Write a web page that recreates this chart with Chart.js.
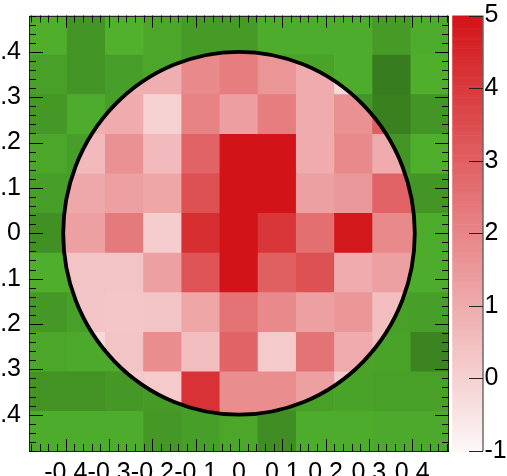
<!DOCTYPE html>
<html><head><meta charset="utf-8">
<script src="https://cdn.jsdelivr.net/npm/chart.js@4.4.1/dist/chart.umd.min.js"></script>
<style>html,body{margin:0;padding:0;background:#fff;overflow:hidden}</style>
</head><body>
<canvas id="c" width="507" height="476" style="width:507px;height:476px;display:block"></canvas>
<script>
// ---- data ----
const n = null;
const xRange = [-0.485, 0.485];
const yRange = [-0.48, 0.48];
const nBinsX = 11, nBinsY = 11;
const xTickValues = [-0.4, -0.3, -0.2, -0.1, 0, 0.1, 0.2, 0.3, 0.4];
const xTickLabels = ['-0.4', '-0.3', '-0.2', '-0.1', '0', '0.1', '0.2', '0.3', '0.4'];
const yTickValues = [-0.4, -0.3, -0.2, -0.1, 0, 0.1, 0.2, 0.3, 0.4];
const yTickLabels = ['-0.4', '-0.3', '-0.2', '-0.1', '0', '0.1', '0.2', '0.3', '0.4'];
const zRange = [-1, 5];
const zTickValues = [-1, 0, 1, 2, 3, 4, 5];
const zTickLabels = ['-1', '0', '1', '2', '3', '4', '5'];
const circleRadius = [0.406, 0.4];

// signal histogram (rows top -> bottom, columns left -> right)
const signalValues = [
  [n, n, n, n, 1.9, 2.2, 1.6, n, n, n, n],
  [n, n, 0.9, 0.9, 1.9, 2.2, 1.6, 1.0, -0.2, n, n],
  [n, 0.9, 1.0, 0.0, 2.1, 1.35, 2.2, 1.0, 1.7, 3.0, n],
  [n, 0.6, 1.7, 0.6, 2.9, 5, 5, 1.0, 1.9, 1.0, n],
  [1.1, 1.1, 1.3, 1.15, 3.4, 5, 5, 1.3, 1.5, 2.9, 2.9],
  [1.3, 1.3, 2.3, 0.1, 4.3, 5, 4.1, 2.6, 4.9, 1.9, 1.9],
  [0.35, 0.35, 0.35, 1.3, 3.3, 5, 3.0, 3.4, 1.0, 1.3, 1.3],
  [n, 0.35, 0.3, 0.35, 1.15, 2.5, 1.9, 1.3, 1.55, 0.5, n],
  [n, -0.2, 0.35, 1.8, 0.5, 2.9, 0.2, 2.5, 1.0, 0.5, n],
  [n, n, 0.2, 0.2, 4.2, 1.8, 1.8, 1.3, 0.2, n, n],
  [n, n, n, n, 4.2, 1.8, 1.8, n, n, n, n]
];
// background histogram (relative shade 0..1)
const backgroundValues = [
  [0.9, 0.45, 0.95, 0.75, 0.55, 0.55, 0.85, 0.85, 0.85, 0.55, 0.85],
  [0.65, 0.45, 0.6, 0.75, 0.55, n, 0.7, 0.7, 0.85, 0.0, 0.9],
  [0.5, 0.85, 0.6, n, n, n, n, n, 0.45, 0.08, 0.45],
  [0.75, 0.6, n, n, n, n, n, n, n, 0.45, 0.9],
  [0.6, 0.6, n, n, n, n, n, n, n, 0.55, 0.45],
  [0.35, n, n, n, n, n, n, n, n, n, 0.85],
  [0.9, 0.85, n, n, n, n, n, n, n, 0.8, 0.85],
  [0.5, 0.65, n, n, n, n, n, n, n, 0.65, 0.6],
  [0.75, 0.8, 0.8, n, n, n, n, n, 0.7, 0.7, 0.15],
  [0.4, 0.4, 0.5, 0.55, 0.6, n, 0.5, 0.65, 0.7, 0.65, 0.65],
  [0.85, 0.85, 0.85, 0.5, 0.6, 0.75, 0.3, 0.85, 0.85, 0.8, 0.8]
];

// ---- helpers ----
function binEdges(range, count) {
  const w = (range[1] - range[0]) / count;
  return Array.from({length: count + 1}, (_, i) => range[0] + i * w);
}
const xEdges = binEdges(xRange, nBinsX);
const yEdges = binEdges(yRange, nBinsY);
function toCells(grid) {
  const out = [];
  grid.forEach((row, r) => row.forEach((v, c) => {
    if (v === null) return;
    const yi = nBinsY - 1 - r;
    out.push({x: (xEdges[c] + xEdges[c + 1]) / 2, y: [yEdges[yi], yEdges[yi + 1]], v});
  }));
  return out;
}
function mix(a, b, t) {
  return 'rgb(' + a.map((av, i) => Math.round(av + (b[i] - av) * t)).join(',') + ')';
}
const redLow = [253, 247, 247], redHigh = [210, 20, 24];
const greenDark = [55, 124, 30], greenLight = [82, 180, 46];
function redColor(v) {
  const t = Math.max(0, Math.min(1, (v - zRange[0]) / (zRange[1] - zRange[0])));
  return mix(redLow, redHigh, t);
}
function greenColor(s) { return mix(greenDark, greenLight, Math.max(0, Math.min(1, s))); }

const FONT = {family: '"Liberation Sans", Arial, Helvetica, sans-serif', size: 25};

function setTicks(values) {
  return function (scale) { scale.ticks = values.map(v => ({value: v})); };
}
function labelFrom(values, labels) {
  return function (v) { const i = values.findIndex(t => Math.abs(t - v) < 1e-9); return i >= 0 ? labels[i] : ''; };
}

const decor = {
  id: 'decor',
  beforeDatasetDraw(chart, args) {
    if (args.index !== 0) return;
    const {x, y} = chart.scales;
    const ctx = chart.ctx;
    const cx = x.getPixelForValue(0), cy = y.getPixelForValue(0);
    ctx.save();
    ctx.beginPath();
    ctx.ellipse(cx, cy, Math.abs(x.getPixelForValue(circleRadius[0]) - cx), Math.abs(y.getPixelForValue(circleRadius[1]) - cy), 0, 0, Math.PI * 2);
    ctx.clip();
  },
  afterDatasetDraw(chart, args) {
    if (args.index !== 0) return;
    chart.ctx.restore();
  },
  afterDatasetsDraw(chart) {
    const {x, y} = chart.scales;
    const ctx = chart.ctx;
    const a = chart.chartArea;
    // circle
    const cx = x.getPixelForValue(0), cy = y.getPixelForValue(0);
    ctx.save();
    ctx.beginPath();
    ctx.ellipse(cx, cy, Math.abs(x.getPixelForValue(circleRadius[0]) - cx), Math.abs(y.getPixelForValue(circleRadius[1]) - cy), 0, 0, Math.PI * 2);
    ctx.lineWidth = 3.8;
    ctx.strokeStyle = '#000';
    ctx.stroke();
    ctx.restore();
    // frame
    ctx.save();
    ctx.strokeStyle = '#222';
    ctx.lineWidth = 1;
    ctx.strokeRect(Math.round(a.left) + 0.5, Math.round(a.top) + 0.5, Math.round(a.right - a.left) - 1, Math.round(a.bottom - a.top) - 1);
    // ticks
    ctx.strokeStyle = '#000';
    ctx.beginPath();
    const minorStep = 0.02;
    function minorVals(range) {
      const out = [];
      for (let k = Math.ceil(range[0] / minorStep - 1e-9); k * minorStep <= range[1] + 1e-9; k++) out.push(k * minorStep);
      return out;
    }
    const xl = {major: 12, minor: 7}, yl = {major: 14, minor: 7};
    minorVals(xRange).forEach(v => {
      const isMajor = Math.abs(Math.round(v * 10) - v * 10) < 1e-6;
      const L = isMajor ? xl.major : xl.minor;
      const px = Math.round(x.getPixelForValue(v)) + 0.5;
      ctx.moveTo(px, a.bottom); ctx.lineTo(px, a.bottom - L);
      ctx.moveTo(px, a.top); ctx.lineTo(px, a.top + L);
    });
    minorVals(yRange).forEach(v => {
      const isMajor = Math.abs(Math.round(v * 10) - v * 10) < 1e-6;
      const L = isMajor ? yl.major : yl.minor;
      const py = Math.round(y.getPixelForValue(v)) + 0.5;
      ctx.moveTo(a.left, py); ctx.lineTo(a.left + L, py);
      ctx.moveTo(a.right, py); ctx.lineTo(a.right - L, py);
    });
    ctx.stroke();
    ctx.restore();
  },
  afterDraw(chart) {
    const z = chart.scales.z;
    const ctx = chart.ctx;
    const left = z.left + 3.3, right = z.left + 33.5;
    const steps = 240;
    ctx.save();
    for (let i = 0; i < steps; i++) {
      const v0 = zRange[0] + (zRange[1] - zRange[0]) * i / steps;
      const v1 = zRange[0] + (zRange[1] - zRange[0]) * (i + 1) / steps;
      const p0 = z.getPixelForValue(v0), p1 = z.getPixelForValue(v1);
      ctx.fillStyle = redColor((v0 + v1) / 2);
      ctx.fillRect(left, p1, right - left, p0 - p1 + 0.6);
    }
    ctx.strokeStyle = '#222';
    ctx.lineWidth = 1;
    ctx.beginPath();
    ctx.moveTo(right + 0.5, z.top); ctx.lineTo(right + 0.5, z.bottom);
    zTickValues.forEach(v => {
      const py = Math.round(z.getPixelForValue(v)) + 0.5;
      ctx.moveTo(right + 0.5, py); ctx.lineTo(right - 13.5, py);
    });
    ctx.stroke();
    ctx.restore();
  }
};

new Chart(document.getElementById('c'), {
  type: 'bar',
  data: {
    datasets: [
      {label: 'signal', data: toCells(signalValues), order: 0,
       backgroundColor: c => c.raw ? redColor(c.raw.v) : '#d00',
       borderWidth: 0, grouped: false, barPercentage: 1, categoryPercentage: 1},
      {label: 'background', data: toCells(backgroundValues), order: 1,
       backgroundColor: c => c.raw ? greenColor(c.raw.v) : '#4a4',
       borderWidth: 0, grouped: false, barPercentage: 1, categoryPercentage: 1}
    ]
  },
  options: {
    responsive: false,
    devicePixelRatio: 1,
    animation: false,
    layout: {padding: {top: 15.5, left: 0, right: 0, bottom: 0}},
    plugins: {legend: {display: false}, tooltip: {enabled: false}},
    scales: {
      x: {
        type: 'linear', position: 'bottom', min: xRange[0], max: xRange[1], offset: false,
        grid: {display: false, drawTicks: false}, border: {display: false},
        afterBuildTicks: setTicks(xTickValues),
        ticks: {autoSkip: false, maxRotation: 0, minRotation: 0, padding: 7, color: '#000', font: FONT, includeBounds: false,
                callback: labelFrom(xTickValues, xTickLabels)},
        afterFit: s => { s.height = 25; s.paddingLeft = 0; s.paddingRight = 0; }
      },
      y: {
        type: 'linear', position: 'left', min: yRange[0], max: yRange[1], beginAtZero: false,
        grid: {display: false, drawTicks: false}, border: {display: false},
        afterBuildTicks: setTicks(yTickValues),
        ticks: {autoSkip: false, padding: 8, color: '#000', font: FONT, includeBounds: false,
                callback: labelFrom(yTickValues, yTickLabels)},
        afterFit: s => { s.width = 29; s.paddingTop = 0; s.paddingBottom = 0; }
      },
      z: {
        type: 'linear', position: 'right', min: zRange[0], max: zRange[1],
        grid: {display: false, drawTicks: false}, border: {display: false},
        afterBuildTicks: setTicks(zTickValues),
        ticks: {autoSkip: false, padding: 35.5, color: '#000', font: FONT,
                callback: labelFrom(zTickValues, zTickLabels)},
        afterFit: s => { s.width = 58; s.paddingTop = 0; s.paddingBottom = 0; }
      }
    }
  },
  plugins: [decor]
});
</script>
</body></html>
